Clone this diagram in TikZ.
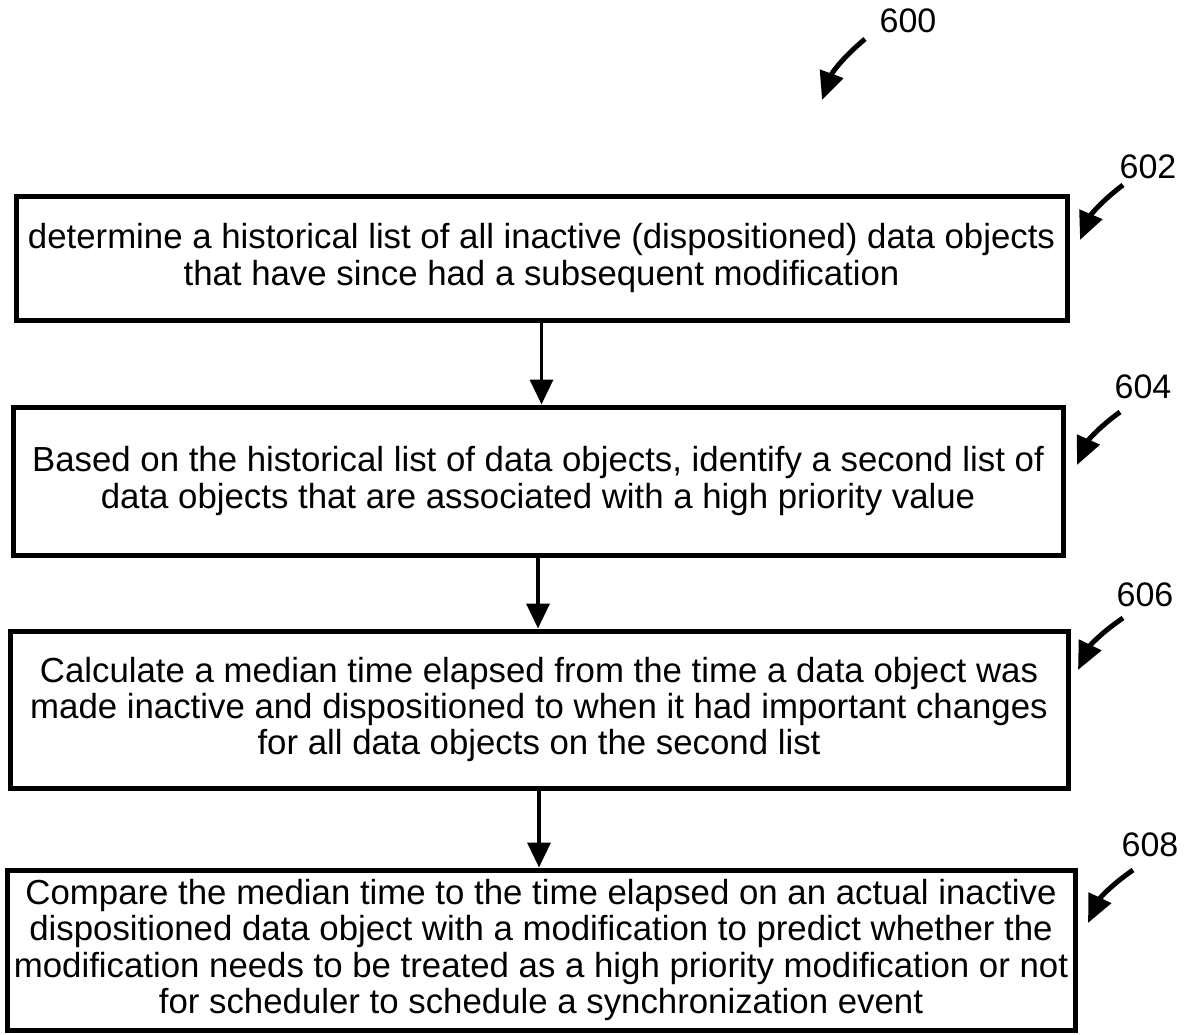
\documentclass[tikz,border=0pt]{standalone}
\usepackage{fontspec}
\setmainfont{Liberation Sans}
\usetikzlibrary{arrows.meta,positioning}

\begin{document}
\begin{tikzpicture}[>=Stealth,x=0.5pt,y=-0.5pt,
  stepbox/.style={draw,line width=2.5pt,align=center,inner sep=0pt,
             font=\fontsize{17.4}{18.2}\selectfont},
  flow/.style={-{Triangle[width=11.5pt,length=12.5pt]},line width=1.75pt},
  refno/.style={font=\fontsize{17}{18}\selectfont,inner sep=0pt},
  refarr/.style={-{Triangle[width=12pt,length=14pt]},line width=2.5pt}]
\useasboundingbox (0,0) rectangle (1188,1034);
\node[stepbox,minimum width=525.5pt,minimum height=62pt] (s602) at (541.5,258)
  {determine a historical list of all inactive (dispositioned) data objects\\
   that have since had a subsequent modification};
\node[stepbox,minimum width=525pt,minimum height=74pt] (s604) at (538,481)
  {Based on the historical list of data objects, identify a second list of\\
   data objects that are associated with a high priority value};
\node[stepbox,minimum width=529pt,minimum height=78.5pt] (s606) at (539,709.5)
  {Calculate a median time elapsed from the time a data object was\\
   made inactive and dispositioned to when it had important changes\\
   for all data objects on the second list};
\node[stepbox,minimum width=534pt,minimum height=80pt] (s608) at (541,950)
  {Compare the median time to the time elapsed on an actual inactive\\
   dispositioned data object with a modification to predict whether the\\
   modification needs to be treated as a high priority modification or not\\
   for scheduler to schedule a synchronization event};
% flow arrows
\draw[flow] (s602) -- (s602 |- s604.north);
\draw[flow] (s604) -- (s604 |- s606.north);
\draw[flow] (s606) -- (s606 |- s608.north);
% reference numerals
\node[refno] (n600) at (908,21) {600};
\coordinate (t600) at (865,39);
\coordinate (h600) at (822,100);
\draw[refarr] (t600) to[bend right=15] (h600);
\node[refno] (n602) at (1148,167) {602};
\coordinate (t602) at (1123,185);
\coordinate (h602) at (1080,240);
\draw[refarr] (t602) to[bend right=15] (h602);
\node[refno] (n604) at (1143,387) {604};
\coordinate (t604) at (1120,412);
\coordinate (h604) at (1077,465);
\draw[refarr] (t604) to[bend right=15] (h604);
\node[refno] (n606) at (1145,595) {606};
\coordinate (t606) at (1123,618);
\coordinate (h606) at (1078,670);
\draw[refarr] (t606) to[bend right=15] (h606);
\node[refno] (n608) at (1150,845) {608};
\coordinate (t608) at (1133,870);
\coordinate (h608) at (1088,923);
\draw[refarr] (t608) to[bend right=15] (h608);
\end{tikzpicture}
\end{document}
